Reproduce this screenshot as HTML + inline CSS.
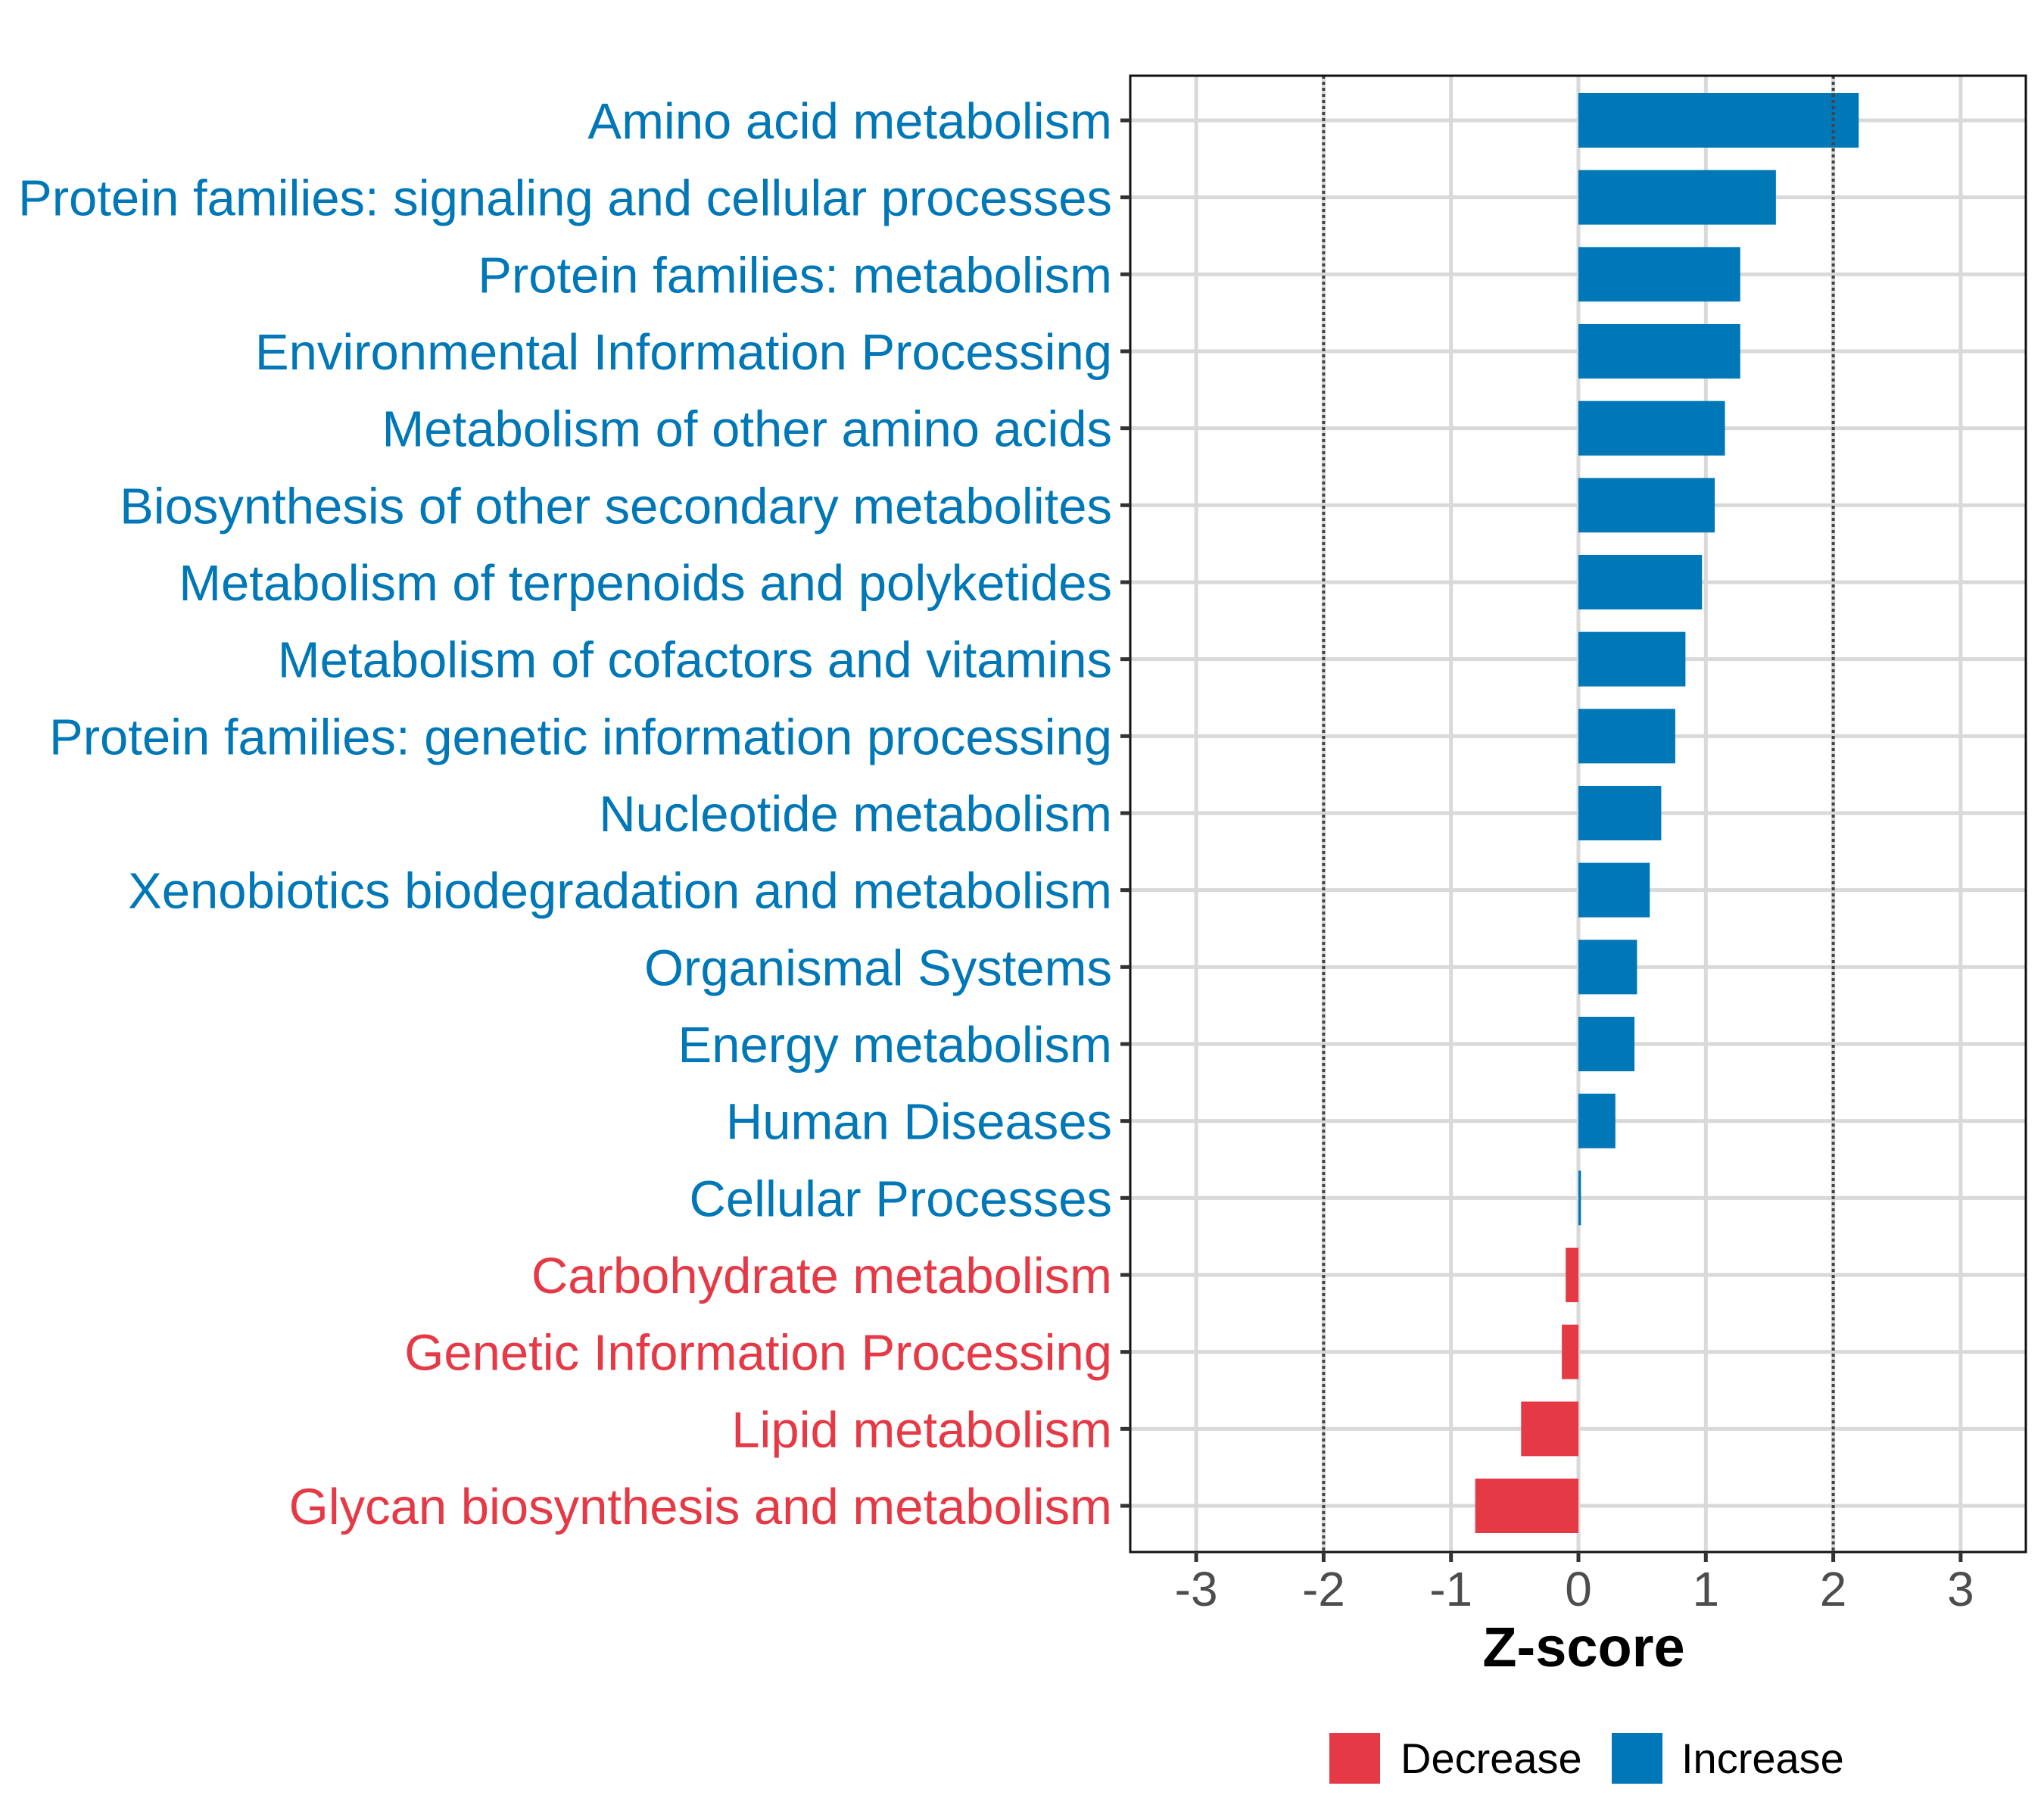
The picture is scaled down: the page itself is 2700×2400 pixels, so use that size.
<!DOCTYPE html>
<html><head><meta charset="utf-8"><style>body{margin:0;background:#fff}svg{display:block}</style></head>
<body>
<svg id="chart" width="2700" height="2400" xmlns="http://www.w3.org/2000/svg" font-family="Liberation Sans, Arial, sans-serif"></svg>
<script>
const categories = ["Amino acid metabolism","Protein families: signaling and cellular processes","Protein families: metabolism","Environmental Information Processing","Metabolism of other amino acids","Biosynthesis of other secondary metabolites","Metabolism of terpenoids and polyketides","Metabolism of cofactors and vitamins","Protein families: genetic information processing","Nucleotide metabolism","Xenobiotics biodegradation and metabolism","Organismal Systems","Energy metabolism","Human Diseases","Cellular Processes","Carbohydrate metabolism","Genetic Information Processing","Lipid metabolism","Glycan biosynthesis and metabolism"];
const zscores = [2.2,1.55,1.27,1.27,1.15,1.07,0.97,0.84,0.76,0.65,0.56,0.46,0.44,0.29,0.02,-0.1,-0.13,-0.45,-0.81];
const xTicks = [-3,-2,-1,0,1,2,3];
const thresholds = [-2,2];
const legendLabels = ["Decrease","Increase"];

const BLUE="#0077b6", RED="#e63946";
const svg=document.getElementById('chart');
const NS="http://www.w3.org/2000/svg";
const PL=1493, PR=2676, PT=100, PB=2050;
const x0=2085, unit=168.3;
const xs=v=>x0+v*unit;
const row0=159, rowStep=(1989-159)/(categories.length-1);
const ys=i=>row0+i*rowStep;
const barH=72;
function el(tag,attrs,parent){const e=document.createElementNS(NS,tag);for(const k in attrs)e.setAttribute(k,attrs[k]);(parent||svg).appendChild(e);return e;}

const grid=el('g',{});


xTicks.forEach(t=>{el('line',{x1:xs(t),x2:xs(t),y1:PT,y2:PB,stroke:'#d9d9d9','stroke-width':5},grid);});
categories.forEach((c,i)=>{el('line',{x1:PL,x2:PR,y1:ys(i),y2:ys(i),stroke:'#d9d9d9','stroke-width':5},grid);});

const bars=el('g',{});


zscores.forEach((v,i)=>{
  const a=Math.min(xs(0),xs(v)), w=Math.max(Math.abs(xs(v)-xs(0)),3);
  const r=el('rect',{x:a,y:ys(i)-barH/2,width:w,height:barH,fill:v>=0?BLUE:RED},bars);
  
  
});

thresholds.forEach(t=>{
  const l=el('line',{x1:xs(t),x2:xs(t),y1:PT,y2:PB,stroke:'#444','stroke-width':4,'stroke-dasharray':'4 4'});
  
  
});

const frame=el('rect',{x:PL,y:PT,width:PR-PL,height:PB-PT,fill:'none',stroke:'#111','stroke-width':3});



const ylab=el('g',{});


categories.forEach((c,i)=>{
  el('line',{x1:PL-13,x2:PL,y1:ys(i),y2:ys(i),stroke:'#333','stroke-width':5},ylab);
  const t=el('text',{x:1469,y:ys(i)+24,'text-anchor':'end','font-size':67,fill:zscores[i]>=0?BLUE:RED},ylab);
  t.textContent=c;
  
  
});

const xlab=el('g',{});


xTicks.forEach(t=>{
  el('line',{x1:xs(t),x2:xs(t),y1:PB,y2:PB+13,stroke:'#333','stroke-width':5},xlab);
  const tx=el('text',{x:xs(t),y:2121,'text-anchor':'middle','font-size':64,fill:'#4d4d4d'},xlab);
  tx.textContent=String(t);
  
  
});

const title=el('text',{x:2092,y:2201,'text-anchor':'middle','font-size':74,'font-weight':'bold',fill:'#000'});
title.textContent='Z-score';



const leg=el('g',{});


[[1756,RED,1850],[2129,BLUE,2221]].forEach((p,i)=>{
  const g=el('g',{},leg);
  
  
  el('rect',{x:p[0],y:2289,width:67,height:67,fill:p[1]},g);
  const t=el('text',{x:p[2],y:2342,'font-size':56,fill:'#000'},g);
  t.textContent=legendLabels[i];
});
</script>
</body></html>
